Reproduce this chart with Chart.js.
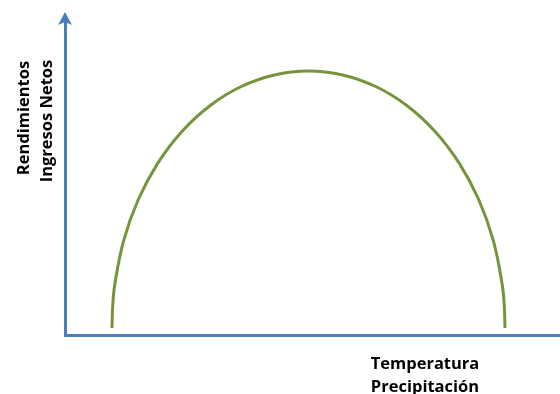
<!DOCTYPE html>
<html>
<head>
<meta charset="utf-8">
<script src="https://cdn.jsdelivr.net/npm/chart.js@4"></script>
<style>
  body { margin: 0; background: #fff; }
  #wrap { position: relative; width: 560px; height: 394px; }
  .lbl {
    position: absolute;
    font-family: "Open Sans", sans-serif;
    font-weight: bold;
    font-size: 16.5px;
    color: #000;
    white-space: nowrap;
    transform: translate(-50%, -50%);
  }
  .rot { transform: translate(-50%, -50%) rotate(-90deg); }
</style>
</head>
<body>
<div id="wrap">
  <canvas id="curveChart"></canvas>
  <div class="lbl rot" style="left:22px; top:118px;">Rendimientos</div>
  <div class="lbl rot" style="left:45px; top:121px;">Ingresos Netos</div>
  <div class="lbl" style="left:425px; top:362px;">Temperatura</div>
  <div class="lbl" style="left:425px; top:385px;">Precipitación</div>
</div>
<script>
// valores (escala 0-100 en ambos ejes)
const xVals = [9.49, 9.64, 10.09, 11.88, 14.81, 18.78, 23.67, 29.34, 35.61, 42.30, 49.19,
               56.08, 62.77, 69.04, 74.71, 79.60, 83.57, 86.50, 88.29, 88.74, 88.89];
const yVals = [2.24, 9.40, 16.49, 30.32, 43.29, 55.01, 65.13, 73.34, 79.39, 83.09, 84.34,
               83.09, 79.39, 73.34, 65.13, 55.01, 43.29, 30.32, 16.49, 9.40, 2.24];

const axisColor = '#4a7ebb';
const curveColor = '#77933c';

const arrowPlugin = {
    id: 'arrowPlugin',
    afterDraw(chart) {
        const ctx = chart.ctx;
        const area = chart.chartArea;
        const x = area.left;
        ctx.save();
        ctx.fillStyle = axisColor;
        ctx.beginPath();
        ctx.moveTo(x, area.top - 10);
        ctx.lineTo(x - 7, area.top + 3);
        ctx.lineTo(x, area.top);
        ctx.lineTo(x + 7, area.top + 3);
        ctx.closePath();
        ctx.fill();
        ctx.restore();
    }
};

document.addEventListener('DOMContentLoaded', () => {
    const ctx = document.getElementById('curveChart').getContext('2d');
    new Chart(ctx, {
        type: 'scatter',
        data: {
            datasets: [{
                data: xVals.map((x, i) => ({ x: x, y: yVals[i] })),
                showLine: true,
                borderColor: curveColor,
                borderWidth: 3,
                pointRadius: 0,
                tension: 0.4,
                fill: false
            }]
        },
        options: {
            responsive: true,
            maintainAspectRatio: false,
            animation: false,
            layout: { padding: { left: 65, right: 0, top: 22, bottom: 59 } },
            scales: {
                x: {
                    min: 0, max: 100,
                    ticks: { display: false },
                    grid: { display: false, drawTicks: false },
                    border: { display: true, color: axisColor, width: 3 },
                    afterFit: (s) => { s.height = 0; }
                },
                y: {
                    min: 0, max: 100,
                    ticks: { display: false },
                    grid: { display: false, drawTicks: false },
                    border: { display: true, color: axisColor, width: 3 },
                    afterFit: (s) => { s.width = 0; }
                }
            },
            plugins: {
                legend: { display: false },
                tooltip: { enabled: false }
            }
        },
        plugins: [arrowPlugin]
    });
});
</script>
</body>
</html>
